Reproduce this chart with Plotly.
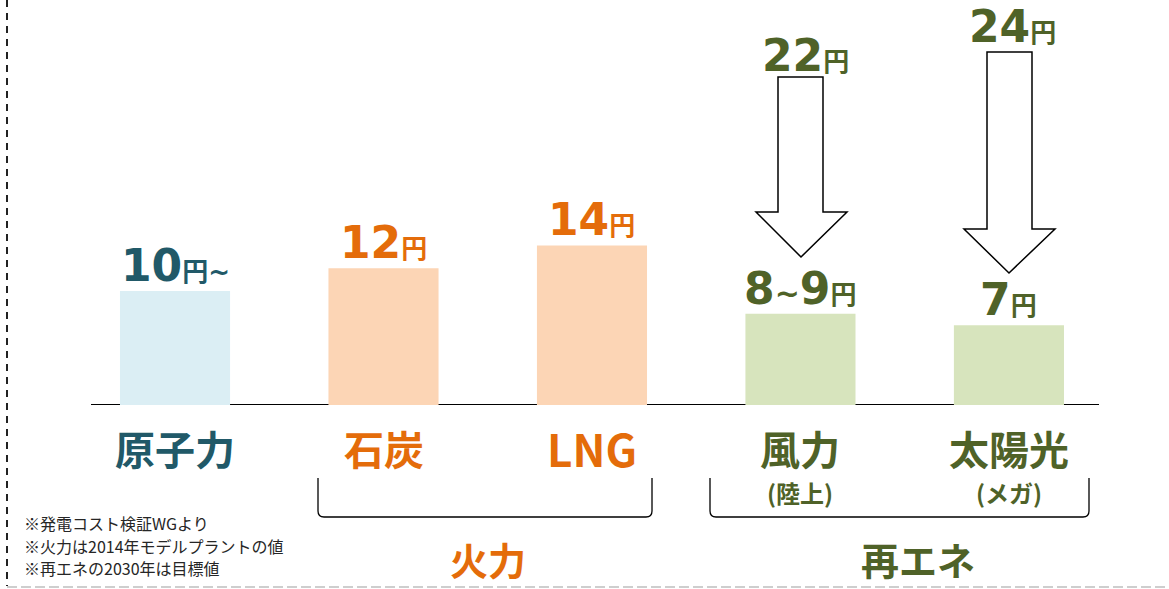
import plotly.graph_objects as go

# ---------------- data ----------------
categories = ["原子力", "石炭", "LNG", "風力", "太陽光"]
sub_labels = ["", "", "", "(陸上)", "(メガ)"]
cost_values = [10, 12, 14, 8, 7]          # bar heights (円/kWh)
value_text = ["10", "12", "14", "8<span style='font-size:30px'>~</span>9", "7"]
value_suffix = ["円~", "円", "円", "円", "円"]
renew_now_values = [22, 24]               # current cost for 風力, 太陽光
renew_now_text = ["22", "24"]
groups = ["火力", "再エネ"]
footnotes = ["※発電コスト検証WGより", "※火力は2014年モデルプラントの値", "※再エネの2030年は目標値"]

# ---------------- style ----------------
TEAL = "#215968"
ORANGE = "#E46C0A"
GREEN = "#4F6228"
bar_fill = ["#DBEEF4", "#FCD5B5", "#FCD5B5", "#D7E4BD", "#D7E4BD"]
text_col = [TEAL, ORANGE, ORANGE, GREEN, GREEN]

W, H = 1169, 589
L, R, T, B = 91, 70, 0, 184           # plot area 91..1099 x 0..405
PLOT_W, PLOT_H = W - L - R, H - T - B
PX_PER_UNIT = 11.4
XPOS = list(range(len(categories)))

def px(p):   # pixel x -> paper
    return (p - L) / PLOT_W

def py(p):   # pixel y -> paper
    return (H - B - p) / PLOT_H

CJK = "Noto Sans CJK JP"
NUMF = "DejaVu Sans, Noto Sans CJK JP"

fig = go.Figure()
fig.add_trace(go.Bar(
    x=XPOS, y=cost_values, width=0.528,
    marker=dict(color=bar_fill, line=dict(width=0)),
    hoverinfo="skip",
))

ann = []
# value labels on bars
for i, (t, s) in enumerate(zip(value_text, value_suffix)):
    ann.append(dict(
        x=XPOS[i], y=cost_values[i], xref="x", yref="y",
        text=f"<b>{t}</b><span style='font-size:26px'><b>{s}</b></span>",
        showarrow=False, yanchor="bottom", xanchor="center", yshift=-2,
        font=dict(family=NUMF, size=44, color=text_col[i]),
    ))

# category labels
lab_sizes = [40, 40, 44, 40, 40]
for i, c in enumerate(categories):
    ann.append(dict(
        x=XPOS[i], y=py(448), xref="x", yref="paper", text=f"<b>{c}</b>",
        showarrow=False, yanchor="middle", xanchor="center",
        font=dict(family=CJK, size=lab_sizes[i], color=text_col[i]),
    ))
    if sub_labels[i]:
        ann.append(dict(
            x=XPOS[i], y=py(492), xref="x", yref="paper", text=f"<b>{sub_labels[i]}</b>",
            showarrow=False, yanchor="middle", xanchor="center",
            font=dict(family=CJK, size=24, color=text_col[i]),
        ))

# current renewable costs above the arrows
arrow_geo = [  # shaft_l, shaft_r, top, head_y, head_l, head_r, tip_x, tip_y, label_x, label_y
    (778, 823, 77, 212, 756, 847, 801, 257, 805, 55),
    (987, 1032, 52, 229, 964, 1055, 1009, 273, 1012, 27),
]
for k, (v, g) in enumerate(zip(renew_now_text, arrow_geo)):
    sl, sr, top, hy, hl, hr, tx, ty, lx, ly = g
    ann.append(dict(
        x=px(lx), y=py(ly), xref="paper", yref="paper",
        text=f"<b>{v}</b><span style='font-size:26px'><b>円</b></span>",
        showarrow=False, yanchor="middle", xanchor="center",
        font=dict(family=NUMF, size=44, color=GREEN),
    ))

# group labels
group_pos = [(488, 558, ORANGE), (918, 558, GREEN)]
for gname, (gx, gy, gc) in zip(groups, group_pos):
    ann.append(dict(
        x=px(gx), y=py(gy), xref="paper", yref="paper", text=f"<b>{gname}</b>",
        showarrow=False, yanchor="middle", xanchor="center",
        font=dict(family=CJK, size=38, color=gc),
    ))

# footnotes
for fn, fy in zip(footnotes, [523, 546, 568]):
    ann.append(dict(
        x=px(22), y=py(fy), xref="paper", yref="paper", text=fn,
        showarrow=False, yanchor="middle", xanchor="left",
        font=dict(family=CJK, size=16, color="#262626"),
    ))

shapes = []
# baseline
shapes.append(dict(type="line", xref="paper", yref="y", x0=0, x1=1, y0=0, y1=0,
                   line=dict(color="#000000", width=2), layer="below"))
# arrows
for g in arrow_geo:
    sl, sr, top, hy, hl, hr, tx, ty, lx, ly = g
    pts = [(sl, top), (sr, top), (sr, hy), (hr, hy), (tx, ty), (hl, hy), (sl, hy)]
    path = "M " + " L ".join(f"{px(a):.5f},{py(b):.5f}" for a, b in pts) + " Z"
    shapes.append(dict(type="path", xref="paper", yref="paper", path=path,
                       fillcolor="white", line=dict(color="#000000", width=1.5)))
# brackets
for (x1, x2) in [(318, 652), (710, 1089)]:
    ytop, ybot, r = 478, 517, 6
    path = (f"M {px(x1):.5f},{py(ytop):.5f} L {px(x1):.5f},{py(ybot - r):.5f} "
            f"Q {px(x1):.5f},{py(ybot):.5f} {px(x1 + r):.5f},{py(ybot):.5f} "
            f"L {px(x2 - r):.5f},{py(ybot):.5f} "
            f"Q {px(x2):.5f},{py(ybot):.5f} {px(x2):.5f},{py(ybot - r):.5f} "
            f"L {px(x2):.5f},{py(ytop):.5f}")
    shapes.append(dict(type="path", xref="paper", yref="paper", path=path,
                       line=dict(color="#000000", width=1.3)))
# dashed frame
shapes.append(dict(type="line", xref="paper", yref="paper",
                   x0=px(7), x1=px(7), y0=py(0), y1=py(586),
                   line=dict(color="#222222", width=2, dash="7px,6px")))
shapes.append(dict(type="line", xref="paper", yref="paper",
                   x0=px(7), x1=px(1169), y0=py(587), y1=py(587),
                   line=dict(color="#BFBFBF", width=1.5, dash="10px,4px")))

fig.update_layout(
    width=W, height=H,
    margin=dict(l=L, r=R, t=T, b=B, pad=0),
    paper_bgcolor="white", plot_bgcolor="white",
    showlegend=False,
    xaxis=dict(range=[-0.403, 4.432], visible=False, fixedrange=True),
    yaxis=dict(range=[0, PLOT_H / PX_PER_UNIT], visible=False, fixedrange=True),
    annotations=ann, shapes=shapes,
)

fig.write_html("out.html",
               config={"displayModeBar": False},
               post_script="document.body.style.margin='0';document.body.style.overflow='hidden';")
